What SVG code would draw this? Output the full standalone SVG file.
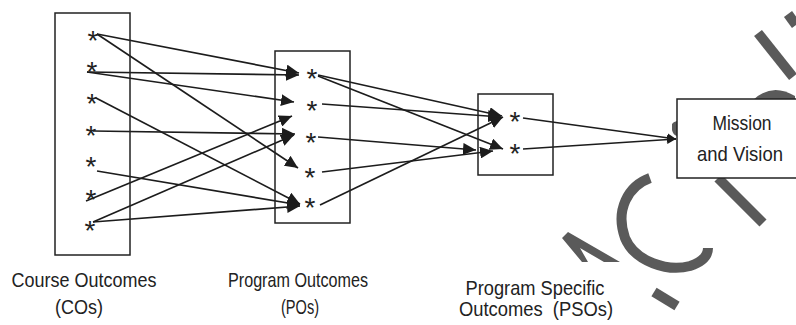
<svg xmlns="http://www.w3.org/2000/svg" width="796" height="325" viewBox="0 0 796 325">
<style>
.box{fill:none;stroke:#222;stroke-width:1.5}
.mbox{fill:#fff;stroke:#222;stroke-width:1.5}
.edge{fill:none;stroke:#1c1c1c;stroke-width:1.7}
.star{font-family:"Liberation Sans",Arial,sans-serif;font-size:28px;fill:#222;text-anchor:middle}
.lbl{font-family:"Liberation Sans",Arial,sans-serif;font-size:21px;fill:#222;text-anchor:middle}
.wm{fill:none;stroke:#5a5a5a;stroke-width:10;stroke-linecap:butt}
</style>
<defs>
<marker id="ah" markerUnits="userSpaceOnUse" markerWidth="14" markerHeight="12" refX="13" refY="6" orient="auto">
<path d="M0,0 L13,6 L0,12 z" fill="#1c1c1c"/>
</marker>
<marker id="ahs" markerUnits="userSpaceOnUse" markerWidth="10" markerHeight="10" refX="9" refY="4.5" orient="auto">
<path d="M0,0 L9,4.5 L0,9 z" fill="#1c1c1c"/>
</marker>
</defs>
<rect width="796" height="325" fill="#fff"/>
<g id="watermark">
<path class="wm" d="M758,33 L793,77"/>
<path class="wm" d="M788,14 L796,25"/>
<path d="M753,100 Q772,82 795,96 L795,100 z" fill="#5a5a5a"/>
<path class="wm" d="M718,178 L763,223"/>
<path class="wm" d="M650,178 C628,186 615,210 625,238 C635,262 668,272 690,266 C702,262 708,256 708,248" stroke-width="11"/>
<path class="wm" d="M654,292 L677,306" stroke-width="8"/>
<path d="M562,238 L568,232 L620,262 L604,262 L580,248 L588,262 L582,262 z" fill="#5a5a5a"/>
<path d="M672,124 Q673,122 677,121 L677,136 Q673,135 672,130 z" fill="#5a5a5a"/>
</g>
<g id="connectors">
<line class="edge" x1="97" y1="34" x2="299" y2="73" marker-end="url(#ah)"/>
<line class="edge" x1="97" y1="34" x2="298" y2="168" marker-end="url(#ah)"/>
<line class="edge" x1="87" y1="72" x2="299" y2="75" marker-end="url(#ah)"/>
<line class="edge" x1="87" y1="72" x2="294" y2="102" marker-end="url(#ah)"/>
<line class="edge" x1="96" y1="98" x2="300" y2="204" marker-end="url(#ah)"/>
<line class="edge" x1="93" y1="131" x2="295" y2="134" marker-end="url(#ah)"/>
<line class="edge" x1="97" y1="171" x2="300" y2="205" marker-end="url(#ah)"/>
<line class="edge" x1="86" y1="201" x2="292" y2="116" marker-end="url(#ah)"/>
<line class="edge" x1="93" y1="222" x2="294" y2="135" marker-end="url(#ah)"/>
<line class="edge" x1="93" y1="222" x2="300" y2="206" marker-end="url(#ah)"/>
<line class="edge" x1="318" y1="75" x2="502" y2="116" marker-end="url(#ah)"/>
<line class="edge" x1="322" y1="104" x2="501" y2="117" marker-end="url(#ah)"/>
<line class="edge" x1="318" y1="76" x2="503" y2="149" marker-end="url(#ah)"/>
<line class="edge" x1="318" y1="137" x2="476" y2="150" marker-end="url(#ah)"/>
<line class="edge" x1="322" y1="172" x2="493" y2="151" marker-end="url(#ah)"/>
<line class="edge" x1="320" y1="205" x2="503" y2="117" marker-end="url(#ah)"/>
<line class="edge" x1="523" y1="118" x2="676" y2="139" marker-end="url(#ahs)"/>
<line class="edge" x1="523" y1="149" x2="676" y2="139" marker-end="url(#ahs)"/>
</g>
<g id="co">
<rect class="box" x="55" y="13" width="75" height="242"/>
<text class="star" x="93" y="50">*</text>
<text class="star" x="92" y="81">*</text>
<text class="star" x="92" y="113">*</text>
<text class="star" x="91" y="145">*</text>
<text class="star" x="91" y="176">*</text>
<text class="star" x="91" y="209">*</text>
<text class="star" x="90" y="240">*</text>
<text class="lbl" x="84" y="287" textLength="145" lengthAdjust="spacingAndGlyphs">Course Outcomes</text>
<text class="lbl" x="79" y="314" textLength="48" lengthAdjust="spacingAndGlyphs">(COs)</text>
</g>
<g id="po">
<rect class="box" x="275" y="51" width="75" height="172"/>
<text class="star" x="312" y="88">*</text>
<text class="star" x="312" y="120">*</text>
<text class="star" x="311" y="152">*</text>
<text class="star" x="310" y="187">*</text>
<text class="star" x="310" y="217">*</text>
<text class="lbl" x="298" y="287" textLength="140" lengthAdjust="spacingAndGlyphs">Program Outcomes</text>
<text class="lbl" x="300" y="314" textLength="38" lengthAdjust="spacingAndGlyphs">(POs)</text>
</g>
<g id="pso">
<rect class="box" x="478" y="94" width="75" height="81"/>
<text class="star" x="515" y="131">*</text>
<text class="star" x="515" y="163">*</text>
<text class="lbl" x="535" y="295" textLength="139" lengthAdjust="spacingAndGlyphs">Program Specific</text>
<text class="lbl" x="536" y="316" textLength="154" lengthAdjust="spacingAndGlyphs">Outcomes&#160;&#160;(PSOs)</text>
</g>
<g id="mission">
<rect class="mbox" x="677" y="99" width="130" height="79"/>
<text class="lbl" x="742" y="130" textLength="59" lengthAdjust="spacingAndGlyphs">Mission</text>
<text class="lbl" x="740" y="161" textLength="86" lengthAdjust="spacingAndGlyphs">and Vision</text>
</g>
</svg>
